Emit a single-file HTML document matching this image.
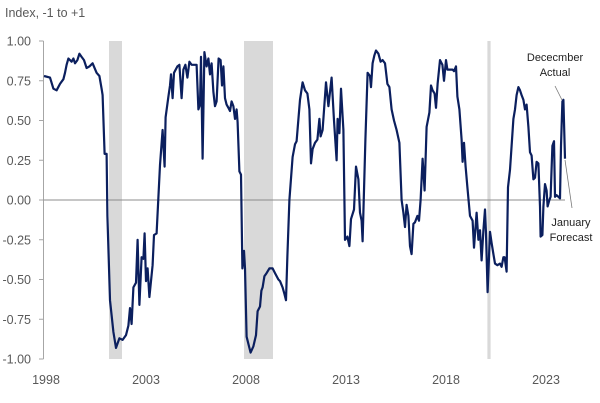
<!DOCTYPE html>
<html><head><meta charset="utf-8"><style>
html,body{margin:0;padding:0;background:#fff;}
svg{display:block;font-family:"Liberation Sans",sans-serif;}
</style></head><body>
<svg id="chart" width="600" height="403" viewBox="0 0 600 403">
<text x="5" y="17" font-size="12.5" fill="#595959">Index, -1 to +1</text>
<g id="bands"></g>
<g id="yaxis"></g>
<g id="xaxis"></g>
<g id="series"></g>
<g>
<text x="555" y="61" font-size="11" fill="#222" text-anchor="middle">Dececmber</text>
<text x="555" y="76" font-size="11" fill="#222" text-anchor="middle">Actual</text>
<line x1="555" y1="86" x2="562" y2="100" stroke="#777" stroke-width="0.8"/>
</g>
<g>
<text x="571" y="226" font-size="11" fill="#222" text-anchor="middle">January</text>
<text x="571" y="241" font-size="11" fill="#222" text-anchor="middle">Forecast</text>
<line x1="565" y1="160" x2="572" y2="208" stroke="#777" stroke-width="0.8"/>
</g>
</svg>
<script>
const dates=[1998.00,1998.30,1998.47,1998.63,1998.80,1998.97,1999.05,1999.13,1999.22,1999.38,1999.47,1999.55,1999.67,1999.77,1999.88,2000.00,2000.13,2000.27,2000.43,2000.63,2000.77,2000.88,2000.93,2001.03,2001.13,2001.17,2001.30,2001.47,2001.60,2001.77,2001.93,2002.10,2002.22,2002.30,2002.38,2002.47,2002.60,2002.68,2002.77,2002.88,2002.97,2003.03,2003.10,2003.18,2003.27,2003.43,2003.50,2003.63,2003.80,2003.93,2004.03,2004.08,2004.22,2004.30,2004.35,2004.43,2004.50,2004.67,2004.77,2004.88,2004.97,2005.07,2005.17,2005.27,2005.38,2005.63,2005.72,2005.80,2005.85,2005.93,2006.02,2006.13,2006.22,2006.30,2006.38,2006.47,2006.55,2006.63,2006.73,2006.83,2006.90,2006.97,2007.05,2007.13,2007.22,2007.30,2007.38,2007.47,2007.55,2007.63,2007.68,2007.77,2007.85,2007.92,2008.00,2008.05,2008.13,2008.27,2008.33,2008.47,2008.60,2008.68,2008.80,2008.87,2008.93,2009.02,2009.13,2009.27,2009.43,2009.55,2009.72,2009.80,2009.93,2010.02,2010.10,2010.17,2010.27,2010.43,2010.55,2010.63,2010.80,2010.93,2011.05,2011.17,2011.27,2011.35,2011.43,2011.55,2011.67,2011.77,2011.83,2011.93,2012.10,2012.22,2012.38,2012.50,2012.63,2012.68,2012.77,2012.85,2012.97,2013.05,2013.17,2013.27,2013.35,2013.50,2013.60,2013.72,2013.80,2013.88,2013.93,2014.07,2014.18,2014.30,2014.35,2014.43,2014.52,2014.60,2014.72,2014.83,2014.93,2015.05,2015.17,2015.27,2015.38,2015.50,2015.63,2015.77,2015.88,2015.97,2016.05,2016.13,2016.22,2016.30,2016.38,2016.47,2016.55,2016.67,2016.75,2016.83,2016.93,2017.03,2017.13,2017.27,2017.35,2017.43,2017.53,2017.60,2017.68,2017.80,2017.92,2018.00,2018.10,2018.17,2018.30,2018.43,2018.50,2018.60,2018.67,2018.77,2018.88,2018.93,2019.00,2019.08,2019.17,2019.30,2019.43,2019.50,2019.63,2019.72,2019.80,2019.88,2019.97,2020.05,2020.10,2020.18,2020.30,2020.38,2020.47,2020.55,2020.67,2020.80,2020.88,2020.97,2021.03,2021.13,2021.20,2021.30,2021.38,2021.47,2021.55,2021.63,2021.72,2021.80,2021.88,2021.97,2022.05,2022.13,2022.22,2022.30,2022.38,2022.47,2022.55,2022.63,2022.72,2022.80,2022.83,2022.92,2022.97,2023.05,2023.13,2023.18,2023.27,2023.33,2023.42,2023.50,2023.55,2023.63,2023.72,2023.80,2023.85,2023.92,2023.97,2024.05];
const values=[.78,.77,.70,.69,.73,.76,.80,.85,.89,.87,.89,.86,.88,.92,.90,.88,.83,.84,.86,.80,.78,.70,.66,.29,.29,-.10,-.63,-.83,-.93,-.87,-.88,-.85,-.79,-.68,-.78,-.55,-.52,-.25,-.66,-.36,-.37,-.21,-.51,-.43,-.61,-.41,-.22,-.21,.22,.44,.21,.52,.65,.72,.79,.64,.80,.84,.85,.64,.82,.85,.77,.87,.85,.85,.57,.60,.90,.26,.93,.84,.89,.79,.86,.68,.59,.62,.89,.88,.72,.84,.64,.60,.58,.56,.62,.59,.51,.57,.49,.18,.16,-.43,-.32,-.43,-.86,-.93,-.96,-.92,-.85,-.70,-.67,-.57,-.55,-.48,-.46,-.43,-.43,-.46,-.50,-.51,-.55,-.59,-.63,-.35,.00,.27,.35,.37,.63,.74,.69,.67,.57,.23,.32,.36,.38,.51,.40,.44,.74,.59,.77,.50,.25,.51,.42,.70,.44,-.25,-.23,-.29,-.12,-.06,.21,.13,-.08,-.13,-.26,.38,.80,.78,.71,.86,.91,.94,.92,.87,.88,.86,.73,.71,.57,.50,.44,.36,.00,-.08,-.17,-.03,-.10,-.29,-.34,-.15,-.14,-.10,-.13,.00,.26,.06,.46,.55,.72,.69,.67,.58,.73,.88,.85,.75,.88,.82,.82,.82,.81,.84,.65,.57,.38,.24,.36,.21,.08,-.10,-.13,-.30,-.08,-.25,-.19,-.38,-.19,-.06,-.21,-.58,-.20,-.27,-.34,-.40,-.41,-.40,-.42,-.36,-.36,-.45,.08,.19,.34,.51,.57,.66,.71,.69,.66,.63,.57,.60,.46,.30,.28,.13,.14,.24,.23,-.04,-.23,-.22,-.04,.10,.06,-.04,.00,.02,.34,.37,.02,.03,.02,.01,.34,.62,.63,.26];
const recessionStarts=[2001.25,2008.0,2020.17];
const recessionEnds=[2001.9,2009.45,2020.33];
const yTicks=[1,0.75,0.5,0.25,0,-0.25,-0.5,-0.75,-1];
const yTickLabels=["1.00","0.75","0.50","0.25","0.00","-0.25","-0.50","-0.75","-1.00"];
const xTicks=[1998,2003,2008,2013,2018,2023];
const xTickLabels=["1998","2003","2008","2013","2018","2023"];

const NS="http://www.w3.org/2000/svg";
const X0=44,PX_PER_YEAR=20,Y0=200,PX_PER_UNIT=159;
function xs(t){return X0+(t-1998)*PX_PER_YEAR;}
function ys(v){return Y0-v*PX_PER_UNIT;}
function mk(tag,attrs,parent){const e=document.createElementNS(NS,tag);for(const k in attrs)e.setAttribute(k,attrs[k]);parent.appendChild(e);return e;}

const bands=document.getElementById('bands');
recessionStarts.forEach((s,i)=>{
  const r=mk('rect',{x:xs(s),y:ys(1),width:xs(recessionEnds[i])-xs(s),height:ys(-1)-ys(1),fill:'#d9d9d9'},bands);
  
  
});

const ya=document.getElementById('yaxis');
mk('line',{x1:43.5,y1:ys(1),x2:43.5,y2:ys(-1),stroke:'#a6a6a6','stroke-width':1},ya);
yTicks.forEach((v,i)=>{
  mk('line',{x1:39,y1:ys(v),x2:43.5,y2:ys(v),stroke:'#a6a6a6','stroke-width':1},ya);
  const t=mk('text',{x:31,y:ys(v)+4.5,'font-size':12.5,fill:'#595959','text-anchor':'end'},ya);
  t.textContent=yTickLabels[i];
  
  
});
const zl=mk('line',{x1:43.5,y1:ys(0),x2:565,y2:ys(0),stroke:'#8c8c8c','stroke-width':1},ya);



const xa=document.getElementById('xaxis');
xTicks.forEach((y,i)=>{
  const t=mk('text',{x:xs(y)+2,y:384,'font-size':12.5,fill:'#595959','text-anchor':'middle'},xa);
  t.textContent=xTickLabels[i];
  
  
});

const s=document.getElementById('series');
const d=dates.map((t,i)=>(i?'L':'M')+xs(t).toFixed(1)+','+ys(values[i]).toFixed(1)).join('');
const p=mk('path',{d:d,fill:'none',stroke:'#0b1f5e','stroke-width':2.2,'stroke-linejoin':'round'},s);


</script>
</body></html>
